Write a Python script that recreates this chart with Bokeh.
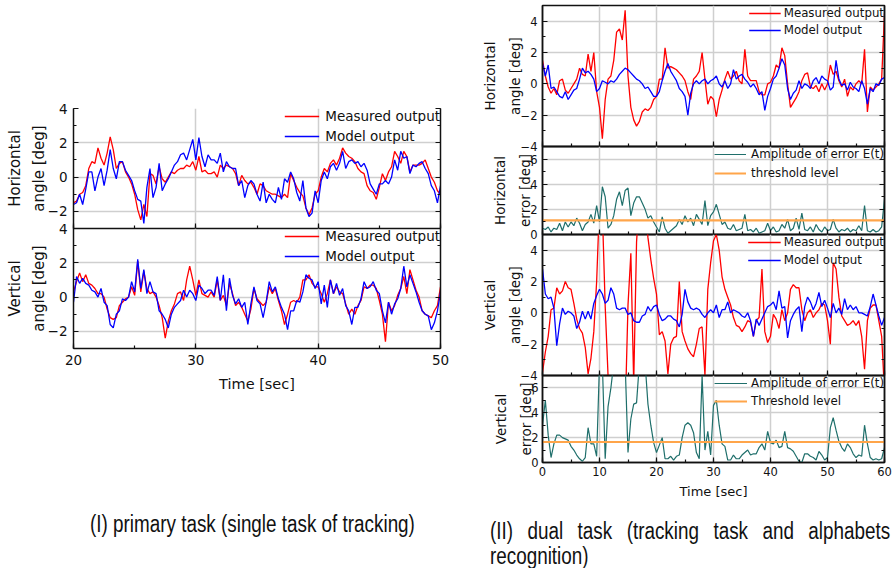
import numpy as np
from bokeh.plotting import figure
from bokeh.models import (Range1d, LinearAxis, SingleIntervalTicker, FixedTicker,
                          Legend, LegendItem, Div, Spacer, CustomJSTickFormatter)
from bokeh.layouts import column, row
from bokeh.embed import file_html
from bokeh.resources import INLINE

# ---------------------------------------------------------------- data
# (I) primary task, sampled every 0.25 s from 20 s to 50 s
PRIMARY_T0, PRIMARY_DT = 20.0, 0.25
primary_h_measured = [
    -1.5, -1.4, -1.0, -0.9, -0.5, 0.5, 0.9, 0.8, 1.7, 1.1, 0.7, 1.4,
    2.35, 1.6, 0.5, 0.8, 0.9, 0.3, 0.0, -0.4, -1.0, -1.9, -2.5, -1.6,
    -2.3, 0.2, 0.1, -0.4, 0.6, -0.1, -0.3, 0.0, 0.3, 0.2, 0.4, 0.5,
    0.5, 0.7, 0.6, 0.9, 0.4, 1.2, 0.3, 0.4, 0.2, 0.2, 0.3, 0.0,
    0.7, 0.5, 0.7, 0.6, 0.5, 0.2, -0.5, 0.1, -0.2, -0.4, -0.3, -0.6,
    -1.0, -0.4, -0.5, -0.8, -0.9, -1.0, -1.0, -1.1, -1.2, -1.0, -1.2, 0.2,
    -0.2, -0.6, -0.9, -1.1, -1.8, -2.2, -1.8, -1.0, -0.8, 0.0, 0.5, 0.3,
    0.8, 1.0, 0.7, 1.1, 1.7, 1.4, 1.2, 1.1, 0.9, 0.5, 0.3, 0.2,
    -0.5, -0.8, -0.9, -1.3, -0.6, 0.2, -0.2, 0.3, 0.6, 1.5, 1.2, 0.8,
    1.5, 1.2, 0.3, 0.7, 0.7, 0.7, 0.8, 1.0, 0.5, 0.0, -0.3, -0.8,
    -1.0]
primary_h_model = [
    -1.6, -1.5, -1.0, -1.6, -0.7, 0.3, 0.3, -0.8, 0.0, 0.5, -0.5, 0.4,
    1.6, 0.5, -0.1, 0.9, 0.9, 0.4, 0.1, -0.2, -0.8, -1.3, -1.4, -2.7,
    -0.6, 0.5, -1.2, -0.6, 0.8, -0.8, -0.4, -0.1, 0.3, 0.7, 0.9, 1.3,
    1.4, 1.0, 1.6, 2.2, 1.0, 2.3, 1.2, 0.6, 1.3, 1.0, 1.0, 0.8,
    1.4, 0.3, 0.9, 0.6, 0.5, 0.5, -0.5, -0.2, -1.2, -0.5, -0.2, -0.4,
    -1.0, -1.4, -0.3, -1.5, -1.0, -1.3, -1.5, -0.6, -1.3, -0.1, -0.3, 0.3,
    -0.1, -0.9, -1.4, -0.2, -1.8, -2.3, -2.1, -0.8, -1.5, -0.2, 0.3, -0.1,
    0.6, 0.8, 0.4, 0.8, 1.5, 0.5, 0.9, 1.0, 0.8, 0.9, 0.6, 0.8,
    0.4, -0.4, -0.7, -1.0, -0.4, -0.4, -0.2, -0.4, 0.0, 1.0, 0.4, 1.5,
    1.1, 1.2, 0.2, 0.7, 0.6, 0.8, 0.9, 0.5, 0.2, -0.5, -0.8, -1.5,
    -0.5]
primary_v_measured = [
    0.3, 0.9, 1.4, 0.9, 1.3, 0.8, 0.7, 0.5, 0.2, 0.2, 0.0, -0.7,
    -1.2, -1.3, -1.2, -0.5, -0.3, -0.1, 0.0, 0.6, 0.1, 2.1, 0.3, 1.5,
    0.5, 0.2, 0.3, 0.0, -0.5, -1.2, -2.4, -1.4, -0.8, -0.4, 0.2, 0.3,
    -0.2, 1.0, 1.8, 1.0, 0.1, 1.0, 0.2, 0.1, 0.0, 0.3, 0.0, 1.0,
    -0.2, 0.1, -0.5, 0.8, 0.2, -0.5, -0.3, -0.6, -1.0, -1.4, -0.7, 0.5,
    -0.1, -0.3, -0.5, -0.3, 0.6, 0.2, 0.5, -0.2, -0.8, -1.6, -1.0, -0.3,
    -0.2, -0.3, 0.0, 1.0, 1.0, 1.3, 0.8, 0.6, 0.6, 0.2, -0.3, 0.2,
    1.0, 0.2, 0.6, 0.3, 0.2, -0.4, -1.0, -0.7, -1.0, -0.5, -0.2, 0.6,
    0.5, 0.7, 0.7, 0.5, -0.2, -1.0, -2.6, -0.3, -0.8, -0.5, 0.1, 0.5,
    1.2, 0.2, 1.6, 1.0, 0.4, 0.0, -0.8, -1.0, -1.1, -1.2, -0.8, -0.5,
    0.6]
primary_v_model = [
    -0.3, 1.2, 0.8, 1.1, 0.8, 0.7, 0.4, 0.3, 0.0, 0.5, -0.3, -0.5,
    -1.6, -1.8, -1.0, -0.8, -0.1, -0.2, 0.0, 0.9, 0.3, 2.2, 0.5, 1.6,
    0.2, 0.9, 0.3, 0.2, -0.8, -1.0, -1.3, -1.8, -1.0, -0.6, -0.4, -0.2,
    0.4, 0.0, 0.4, 0.2, -0.2, 0.7, 0.5, 0.2, 0.4, 0.4, 0.1, 1.2,
    -0.2, 1.3, -0.8, 1.1, 0.1, -0.4, -0.1, -0.6, -0.3, -1.6, -0.4, 0.6,
    -0.2, -0.4, -1.2, -0.3, 0.9, 0.3, 0.6, -0.1, -0.6, -1.0, -1.9, -0.8,
    -0.8, -0.2, -0.3, 0.3, 1.3, 1.1, 1.0, 0.5, 0.9, -0.4, 0.7, -0.6,
    1.0, 0.2, 0.8, 0.1, 0.5, -0.5, -0.8, -1.6, -0.6, -0.6, -0.1, 0.9,
    0.5, 0.6, 0.9, 0.4, 0.2, -0.8, -1.5, -0.3, -1.0, -0.4, -0.1, 0.5,
    1.8, 0.6, 1.3, 0.8, 0.3, -0.3, -0.8, -1.0, -1.1, -1.9, -1.5, -0.8,
    0.3]

# (II) dual task, sampled every 0.5 s from 0 s to 60 s
DUAL_T0, DUAL_DT = 0.0, 0.5
dual_h_measured = [
    1.5, 0.5, -0.2, -0.6, -0.3, -0.7, 0.2, 0.3, -0.4, -0.6,
    -0.3, 0.0, 0.3, 1.0, 0.6, 0.5, 1.9, 0.8, 2.0, -0.5,
    -1.5, -3.5, -1.0, 0.3, 0.5, 1.5, 3.3, 3.5, 2.8, 4.7,
    0.5, -1.5, -2.3, -2.7, -2.4, -1.8, -1.6, -1.7, -1.5, -1.0,
    -0.8, 0.3, 0.3, 2.3, 1.0, 1.1, 1.0, 0.9, 0.7, 0.5,
    0.2, -0.5, -1.0, 0.3, 0.5, 0.8, 2.0, 0.3, -1.3, -0.8,
    -1.0, -2.1, -1.0, -0.4, 0.3, 0.8, 0.3, 0.5, 0.8, 0.2,
    0.0, 2.2, 0.5, 0.2, 0.2, 0.2, -0.5, -0.7, -0.7, 0.0,
    0.1, 0.5, 1.2, 1.0, 2.3, 1.8, 0.0, -1.5, -1.2, -0.9,
    -0.5, 0.2, 0.6, 0.7, -0.2, -0.3, -0.1, -0.5, 0.0, -0.4,
    0.0, 1.2, 0.6, 0.8, 0.2, -0.2, 0.3, -0.8, -0.2, -0.4,
    0.0, 0.2, 0.0, 2.2, -1.8, -0.2, -0.4, -0.2, 0.0, 0.3,
    4.5]
dual_h_model = [
    1.3, 0.5, 1.2, -0.3, -0.2, -0.5, -0.8, -0.9, -0.5, -1.0,
    -0.7, -0.4, -0.3, 0.3, 1.0, 0.7, 0.8, 0.6, 0.3, -0.5,
    -0.3, 0.2, 0.1, 0.0, 0.2, 0.1, 0.3, 0.6, 0.8, 1.0,
    0.9, 0.7, 0.5, 0.3, 0.2, 0.0, -0.3, -0.2, -0.5, -0.8,
    -0.8, -0.5, 0.2, 0.8, 1.3, 0.8, 0.5, 0.2, -0.3, -0.5,
    -0.8, -2.0, -0.6, 0.0, 0.2, 0.0, 0.2, 0.3, 0.0, 0.2,
    0.3, 0.5, 0.0, -0.2, 0.2, -0.3, 0.0, 0.9, 0.3, 0.5,
    0.6, 0.3, 0.1, -0.2, 0.0, -0.3, -0.7, -0.5, -1.7, -0.8,
    -0.3, 0.3, 0.5, 1.0, 1.6, 1.2, -0.3, -1.0, -0.6, -0.4,
    0.2, -0.3, 0.0, -0.1, -0.3, 0.2, 0.4, 0.0, 0.5, 0.3,
    0.2, -0.4, -0.2, 1.5, 0.3, -0.1, 0.0, -0.4, 0.1, -0.2,
    -0.3, -0.5, 0.2, -0.3, -1.3, -0.3, -0.5, 0.0, -0.1, 0.3,
    0.4]
dual_h_error = [
    0.5, 0.4, 0.6, 0.2, 0.5, 0.4, 0.9, 0.3, 1.0, 0.6,
    1.0, 0.7, 1.3, 0.9, 0.3, 0.8, 1.0, 1.6, 0.9, 2.3,
    1.0, 3.8, 3.0, 0.5, 0.8, 1.5, 2.8, 3.4, 2.3, 3.5,
    3.7, 1.5, 2.5, 3.0, 3.0, 2.5, 2.0, 1.3, 1.5, 1.0,
    0.6, 0.2, 1.4, 0.5, 0.1, 0.3, 0.5, 0.7, 1.2, 0.8,
    1.5, 1.0, 1.3, 0.7, 1.6, 1.2, 0.8, 2.7, 0.7, 1.5,
    1.8, 2.4, 1.6, 0.8, 1.0, 0.5, 0.4, 0.8, 0.3, 0.4,
    0.5, 1.6, 0.3, 0.4, 0.2, 0.5, 0.1, 0.2, 0.3, 0.9,
    0.3, 0.6, 0.2, 0.3, 0.8, 0.5, 1.2, 0.3, 0.5, 1.3,
    0.4, 1.7, 0.4, 0.3, 0.6, 0.2, 0.8, 0.4, 0.2, 0.6,
    0.3, 0.4, 1.2, 0.5, 0.2, 0.4, 0.3, 0.5, 0.2, 0.4,
    0.3, 0.7, 0.3, 2.3, 0.3, 0.2, 0.4, 0.2, 0.3, 0.6,
    2.8]
dual_v_measured = [
    -3.8, -2.5, -1.5, 0.2, 0.3, 1.6, 1.2, 1.4, 2.0, 1.6,
    1.5, 0.6, -0.4, -1.0, -1.3, -2.2, -3.9, -2.9, -1.2, 2.0,
    7.0, 6.5, 0.4, -4.0, -5.5, -7.0, -8.0, -8.0, -7.5, -6.5,
    0.5, 3.8, -4.5, 4.5, 7.5, 8.0, 7.0, 4.8, 3.4, 2.2,
    1.2, -1.4, -1.2, -1.8, -3.9, -2.0, -1.6, -1.5, 2.0, -1.2,
    -1.8, -2.3, -2.6, -2.8, -2.0, -1.0, -0.9, -4.0, 1.5, 3.2,
    4.6, 5.0, 4.0, 2.3, 1.5, 1.0, 0.5, -0.3, -0.8, -0.9,
    -1.2, -0.9, -0.5, -0.6, -1.5, -0.5, -0.3, 2.8, -1.2, -1.9,
    -1.5, -0.1, -0.4, -1.0, 0.2, -0.5, 0.0, 1.5, 1.8, 1.6,
    1.6, 0.2, -0.5, 0.0, 0.2, -0.3, 0.0, 0.2, 0.6, 0.5,
    -0.5, -2.0, 3.2, 2.8, 1.0, -0.2, -0.5, -0.8, -0.7, -0.5,
    -0.8, -0.5, -1.5, -3.6, -0.5, 0.3, 0.5, 0.5, -0.5, -1.5,
    -5.0]
dual_v_model = [
    2.8, 1.2, 0.9, 1.0, 0.3, -2.1, -0.7, 0.3, -0.1, 0.1,
    0.0, -0.2, -1.0, -0.6, 0.1, -0.4, 0.1, -0.4, 0.6, 1.1,
    1.5, 1.2, 0.6, 0.8, 1.6, 1.2, 0.3, 0.2, 0.3, 0.3,
    -0.1, 0.0, -0.5, -0.6, -0.6, -0.2, -0.1, 0.4, 0.1, 0.4,
    0.5, -0.1, -0.5, -0.4, -0.2, -0.2, -0.4, -0.5, -0.9, -0.1,
    1.5, 0.7, 0.3, 0.2, 0.3, 0.2, -0.1, -0.3, 0.0, 0.2,
    0.0, 0.5, -0.3, 0.2, 0.2, 0.7, 0.0, 0.2, 0.1, 0.0,
    -0.2, -0.3, 0.0, -0.5, -1.5, -0.4, -0.8, -0.4, 0.0, 0.4,
    0.5, 0.7, 0.2, 1.4, 0.3, 0.4, -1.6, -0.5, -0.1, 0.2,
    0.4, -1.2, 0.4, 1.0, 0.7, 0.2, 0.6, 1.3, 0.4, 0.8,
    0.3, -0.3, 0.6, 0.0, 0.3, -0.1, 0.9, 0.2, 0.5, 0.2,
    0.4, 0.0, 0.0, -0.1, -0.2, 0.4, 1.2, 0.5, -0.2, -0.8,
    -0.3]
dual_v_error = [
    3.0, 5.0, 2.2, 0.4, 1.5, 2.2, 2.2, 2.0, 1.9, 1.8,
    1.3, 1.0, 0.6, 0.3, 0.1, 0.4, 2.8, 1.5, 1.5, 0.5,
    8.0, 8.0, 0.3, 4.5, 6.0, 8.0, 8.0, 8.0, 8.0, 8.0,
    0.8, 3.5, 4.7, 4.8, 8.0, 8.0, 8.0, 4.7, 3.0, 1.6,
    0.8, 1.4, 2.0, 0.3, 0.3, 0.5, 0.2, 0.5, 0.6, 2.0,
    3.0, 3.2, 3.0, 2.4, 0.8, 0.3, 7.0, 1.0, 2.5, 0.6,
    4.6, 5.0, 3.0, 1.5, 1.3, 0.2, 0.2, 0.6, 0.3, 0.3,
    0.6, 0.8, 1.0, 0.6, 0.7, 0.7, 1.2, 1.5, 1.0, 2.5,
    1.6, 1.5, 1.8, 1.2, 1.3, 2.5, 1.2, 1.1, 0.9, 0.5,
    0.1, 0.0, 0.7, 0.7, 0.5, 0.4, 0.2, 0.9, 0.6, 0.2,
    0.4, 2.8, 3.6, 2.6, 1.7, 1.2, 0.9, 1.5, 1.2, 0.7,
    0.4, 0.6, 0.5, 3.0, 1.5, 0.4, 0.2, 0.3, 0.2, 0.3,
    1.2]
horizontal_threshold = 1.12
vertical_threshold = 1.65

t_primary = PRIMARY_T0 + PRIMARY_DT * np.arange(len(primary_h_measured))
t_dual = DUAL_T0 + DUAL_DT * np.arange(len(dual_h_measured))

# ---------------------------------------------------------------- style
FONT = "DejaVu Sans"
RED, BLUE, TEAL, ORANGE = "#ff0000", "#0000ff", "#1f6f6b", "#ffa54a"
GRID = "#cfcfcf"
INK = "#111111"
BLANK = CustomJSTickFormatter(code="return ''")


def style_axis(ax, ticker, size, standoff, show):
    ax.ticker = ticker
    ax.axis_line_color = INK
    ax.axis_line_width = 1.5
    ax.major_tick_in = 5
    ax.major_tick_out = 0
    ax.minor_tick_in = 3
    ax.minor_tick_out = 0
    ax.major_tick_line_color = INK
    ax.minor_tick_line_color = INK
    ax.major_tick_line_width = 1.2
    ax.minor_tick_line_width = 1.2
    ax.major_label_text_font = FONT
    ax.major_label_text_color = INK
    ax.major_label_text_font_size = size
    if show:
        ax.major_label_standoff = standoff
    else:
        ax.formatter = BLANK
        ax.major_label_standoff = 0


def add_label_axis(p, ticker, text, size, standoff, center):
    """A y axis that only carries a (rotated) label, centred on `center`."""
    a = LinearAxis(bounds=(center - 0.01, center + 0.01))
    style_axis(a, ticker, size, 0, False)
    a.axis_line_color = None
    a.major_tick_line_color = None
    a.minor_tick_line_color = None
    a.major_tick_in = 0
    a.minor_tick_in = 0
    a.axis_label = text
    a.axis_label_text_font = FONT
    a.axis_label_text_font_size = size
    a.axis_label_text_font_style = "normal"
    a.axis_label_standoff = standoff
    a.axis_label_text_color = INK
    p.add_layout(a, "left")


def make_panel(width, height, xr, yr, borders, x_int, y_int, ylabels, lab_size,
               lab_standoffs, lab_centers, tick_size, tick_standoff, xlabel=None,
               xlab_size=None, xlab_standoff=None, outline=None, ygrid_ticks=None,
               margin=None):
    bl, br, bt, bb = borders
    kw = {}
    if margin is not None:
        kw["margin"] = margin
    p = figure(width=width, height=height, x_range=Range1d(*xr), y_range=Range1d(*yr),
               output_backend="svg", toolbar_location=None,
               min_border_left=bl, min_border_right=br, min_border_top=bt,
               min_border_bottom=bb, background_fill_alpha=0, border_fill_alpha=0, **kw)
    xt = SingleIntervalTicker(interval=x_int, num_minor_ticks=2)
    yt = SingleIntervalTicker(interval=y_int, num_minor_ticks=2)
    style_axis(p.xaxis[0], xt, tick_size, tick_standoff, xlabel is not None)
    style_axis(p.yaxis[0], yt, tick_size, tick_standoff, True)
    ra = LinearAxis()
    style_axis(ra, yt, tick_size, 0, False)
    p.add_layout(ra, "right")
    outer_text, inner_text = ylabels
    add_label_axis(p, yt, inner_text, lab_size, lab_standoffs[0], lab_centers[0])
    add_label_axis(p, yt, outer_text, lab_size, lab_standoffs[1], lab_centers[1])
    if xlabel is not None:
        ax = p.xaxis[0]
        ax.axis_label = xlabel
        ax.axis_label_text_font = FONT
        ax.axis_label_text_font_size = xlab_size
        ax.axis_label_text_font_style = "normal"
        ax.axis_label_standoff = xlab_standoff
        ax.axis_label_text_color = INK
    p.xgrid.ticker = xt
    p.ygrid.ticker = FixedTicker(ticks=ygrid_ticks) if ygrid_ticks is not None else yt
    p.grid.grid_line_color = GRID
    p.grid.grid_line_width = 1.5
    p.outline_line_color = outline
    p.outline_line_width = 1.5
    return p


def add_legend(p, items, font_size, glyph_w, row_h, spacing, standoff, padding):
    lg = Legend(items=[LegendItem(label=l, renderers=[r]) for l, r in items],
                location="top_right", border_line_color=None, background_fill_alpha=0,
                padding=padding, margin=0, spacing=spacing, glyph_width=glyph_w,
                glyph_height=row_h, label_height=row_h, label_standoff=standoff,
                label_text_font=FONT, label_text_font_size=font_size,
                label_text_color=INK)
    p.add_layout(lg)


# ---------------------------------------------------------------- (I) primary task
LS = (-3, 3)
lh = make_panel(450, 140, (20, 50), (-3, 4), (73, 10, 10, 10), 10, 2,
                ("Horizontal", "angle [deg]"), "15px", LS, (1.55, -0.9), "13.5px", 6)
r1 = lh.line(t_primary, primary_h_measured, line_color=RED, line_width=1.3)
r2 = lh.line(t_primary, primary_h_model, line_color=BLUE, line_width=1.3)
add_legend(lh, [("Measured output", r1), ("Model output", r2)], "13.5px", 35, 16, 4, 6, 4)

lv = make_panel(450, 182, (20, 50), (-3, 4), (73, 10, 10, 52), 10, 2,
                ("Vertical", "angle [deg]"), "15px", LS, (1.55, -1.2), "13.5px", 6,
                xlabel="Time [sec]", xlab_size="14.5px", xlab_standoff=8,
                ygrid_ticks=[-2, 0, 2], margin=(-20, 0, 0, 0))
r3 = lv.line(t_primary, primary_v_measured, line_color=RED, line_width=1.3)
r4 = lv.line(t_primary, primary_v_model, line_color=BLUE, line_width=1.3)
add_legend(lv, [("Measured output", r3), ("Model output", r4)], "13.5px", 35, 16, 4, 6, 4)

CAP = ("font-family:'Liberation Sans',Arial,sans-serif;font-size:23px;line-height:25px;"
       "color:#111;transform:scaleX(0.82);transform-origin:0 0;")
cap_left = Div(width=450, height=30, margin=(112, 0, 0, 0), text=(
    f'<div style="margin-left:90px;"><div style="{CAP}white-space:nowrap;">'
    '(I) primary task (single task of tracking)</div></div>'))

left_col = column(Spacer(width=450, height=98), lh, lv, cap_left)

# ---------------------------------------------------------------- (II) dual task
RS = (-5, 6)
dh = make_panel(445, 154, (0, 60), (-4, 5), (92, 11, 5, 8), 10, 2,
                ("Horizontal", "angle [deg]"), "13.5px", RS, (2.1, -0.5), "11.5px", 5,
                outline=INK)
d1 = dh.line(t_dual, dual_h_measured, line_color=RED, line_width=1.3)
d2 = dh.line(t_dual, dual_h_model, line_color=BLUE, line_width=1.3)
add_legend(dh, [("Measured output", d1), ("Model output", d2)], "11.8px", 32, 16, 1, 3, 4)

dhe = make_panel(445, 104, (0, 60), (0, 7), (92, 11, 8, 8), 10, 2,
                 ("Horizontal", "error [deg]"), "13.5px", RS, (4.0, 2.9), "11.5px", 5,
                 outline=INK, margin=(-16, 0, 0, 0))
e1 = dhe.line(t_dual, dual_h_error, line_color=TEAL, line_width=1.2)
e2 = dhe.line([DUAL_T0, t_dual[-1]], [horizontal_threshold, horizontal_threshold],
              line_color=ORANGE, line_width=2.2)
add_legend(dhe, [("Amplitude of error E(t)", e1), ("threshold level", e2)], "11.8px", 32, 16, 3, 5, 4)

dv = make_panel(445, 157, (0, 60), (-4, 5), (92, 11, 8, 8), 10, 2,
                ("Vertical", "angle [deg]"), "13.5px", RS, (1.8, -1.9), "11.5px", 5,
                outline=INK, margin=(-16, 0, 0, 0))
d3 = dv.line(t_dual, dual_v_measured, line_color=RED, line_width=1.3)
d4 = dv.line(t_dual, dual_v_model, line_color=BLUE, line_width=1.3)
add_legend(dv, [("Measured output", d3), ("Model output", d4)], "11.8px", 33, 16, 2, 3, 4)

dve = make_panel(445, 140, (0, 60), (0, 7), (92, 11, 8, 45), 10, 2,
                 ("Vertical", "error [deg]"), "13.5px", RS, (3.7, 3.2), "11.5px", 4,
                 xlabel="Time [sec]", xlab_size="13px", xlab_standoff=5,
                 outline=INK, margin=(-16, 0, 0, 0))
e3 = dve.line(t_dual, dual_v_error, line_color=TEAL, line_width=1.2)
e4 = dve.line([DUAL_T0, t_dual[-1]], [vertical_threshold, vertical_threshold],
              line_color=ORANGE, line_width=2.2)
add_legend(dve, [("Amplitude of error E(t)", e3), ("Threshold level", e4)], "11.8px", 33, 16, 2, 4, 4)

cap_right = Div(width=445, height=60, margin=(12, 0, 0, 0), text=(
    f'<div style="margin-left:40px;"><div style="{CAP}width:488px;text-align:justify;">'
    '(II) dual task (tracking task and alphabets recognition)</div></div>'))

right_col = column(dh, dhe, dv, dve, cap_right)

layout = row(left_col, right_col)

open("out.html", "w").write(file_html(layout, INLINE, title="tracking"))
